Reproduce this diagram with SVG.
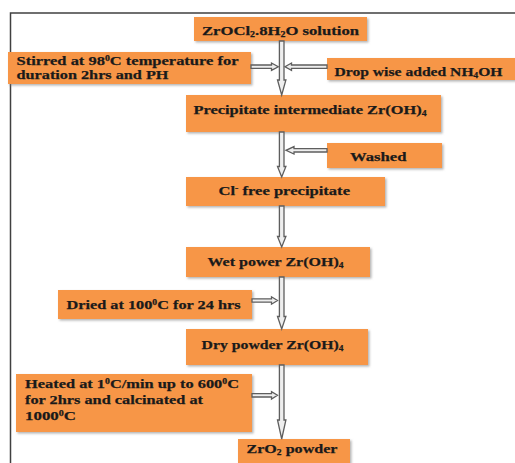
<svg xmlns="http://www.w3.org/2000/svg" width="515" height="463" viewBox="0 0 515 463">
<defs>
<filter id="sh" x="-10%" y="-10%" width="120%" height="140%">
<feDropShadow dx="1.5" dy="1.5" stdDeviation="0.8" flood-color="#808080" flood-opacity="0.6"/>
</filter>
</defs>
<style>
.box{fill:#F79646;filter:url(#sh);}
.t{font-family:"Liberation Serif","Times New Roman",serif;font-weight:bold;font-size:13.5px;fill:#1a1a1a;stroke:#1a1a1a;stroke-width:0.25;}
.sup{font-size:8px;}
.ar{fill:#eeeeee;stroke:#5e5e5e;stroke-width:1.3;stroke-linejoin:miter;}
.frame{stroke:#404040;stroke-width:1.5;fill:none;}
</style>
<rect width="515" height="463" fill="#ffffff"/>
<path class="frame" d="M10.5,463 V13 H515"/>

<g id="n1"><rect class="box" x="194" y="17" width="173" height="24"/>
<text class="t" x="202" y="35" textLength="157" lengthAdjust="spacingAndGlyphs">ZrOCl<tspan class="sup" baseline-shift="-2">2</tspan>.8H<tspan class="sup" baseline-shift="-2">2</tspan>O solution</text></g>

<g id="n2"><rect class="box" x="8" y="52" width="243" height="32"/>
<text class="t" x="16.5" y="65" textLength="222" lengthAdjust="spacingAndGlyphs">Stirred at 98<tspan class="sup" baseline-shift="4">0</tspan>C temperature for</text>
<text class="t" x="16.5" y="78.5" textLength="152" lengthAdjust="spacingAndGlyphs">duration 2hrs and PH</text></g>

<g id="n3"><rect class="box" x="327" y="58" width="190" height="22"/>
<text class="t" x="334.5" y="76" textLength="168" lengthAdjust="spacingAndGlyphs">Drop wise added NH<tspan class="sup" baseline-shift="-2">4</tspan>OH</text></g>

<g id="n4"><rect class="box" x="186" y="95" width="255" height="37"/>
<text class="t" x="193.5" y="113.5" textLength="233" lengthAdjust="spacingAndGlyphs">Precipitate intermediate Zr(OH)<tspan class="sup" baseline-shift="-2">4</tspan></text></g>

<g id="n5"><rect class="box" x="327" y="143" width="115" height="25"/>
<text class="t" x="350" y="160.5" textLength="56.5" lengthAdjust="spacingAndGlyphs">Washed</text></g>

<g id="n6"><rect class="box" x="186" y="177" width="199" height="29"/>
<text class="t" x="218.5" y="195" textLength="131.5" lengthAdjust="spacingAndGlyphs">Cl<tspan class="sup" baseline-shift="4">-</tspan> free precipitate</text></g>

<g id="n7"><rect class="box" x="186" y="247" width="184" height="30"/>
<text class="t" x="207.5" y="266" textLength="136" lengthAdjust="spacingAndGlyphs">Wet power Zr(OH)<tspan class="sup" baseline-shift="-2">4</tspan></text></g>

<g id="n8"><rect class="box" x="58" y="290" width="194" height="29"/>
<text class="t" x="66.5" y="309" textLength="174" lengthAdjust="spacingAndGlyphs">Dried at 100<tspan class="sup" baseline-shift="4">0</tspan>C for 24 hrs</text></g>

<g id="n9"><rect class="box" x="186" y="329" width="182" height="36"/>
<text class="t" x="201.5" y="349" textLength="142" lengthAdjust="spacingAndGlyphs">Dry powder Zr(OH)<tspan class="sup" baseline-shift="-2">4</tspan></text></g>

<g id="n10"><rect class="box" x="16" y="374" width="236" height="58"/>
<text class="t" x="25" y="387.5" textLength="214" lengthAdjust="spacingAndGlyphs">Heated at 1<tspan class="sup" baseline-shift="4">0</tspan>C/min up to 600<tspan class="sup" baseline-shift="4">0</tspan>C</text>
<text class="t" x="25" y="404" textLength="178" lengthAdjust="spacingAndGlyphs">for 2hrs and calcinated at</text>
<text class="t" x="25" y="420" textLength="51" lengthAdjust="spacingAndGlyphs">1000<tspan class="sup" baseline-shift="4">0</tspan>C</text></g>

<g id="n11"><rect class="box" x="238" y="439" width="112" height="30"/>
<text class="t" x="246.5" y="452.5" textLength="91" lengthAdjust="spacingAndGlyphs">ZrO<tspan class="sup" baseline-shift="-2">2</tspan> powder</text></g>

<g id="connectors">
<polygon class="ar" points="279.4,41 284,41 284,80 285.9,80 281.7,95 277.5,80 279.4,80"/>
<polygon class="ar" points="279.4,132 284,132 284,166.5 285.9,166.5 281.7,177 277.5,166.5 279.4,166.5"/>
<polygon class="ar" points="279.4,206 284,206 284,236.5 285.9,236.5 281.7,247 277.5,236.5 279.4,236.5"/>
<polygon class="ar" points="279.4,277 284,277 284,316.5 285.9,316.5 281.7,329 277.5,316.5 279.4,316.5"/>
<polygon class="ar" points="279.4,365 284,365 284,420 285.9,420 281.7,439 277.5,420 279.4,420"/>
<polygon class="ar" points="251,65 271.5,65 271.5,63 278.3,66.7 271.5,70.4 271.5,68.4 251,68.4"/>
<polygon class="ar" points="327,65 291.5,65 291.5,63 285,66.7 291.5,70.4 291.5,68.4 327,68.4"/>
<polygon class="ar" points="327,148.6 294,148.6 294,146.6 286,150.3 294,154 294,152 327,152"/>
<polygon class="ar" points="252,298.8 271.5,298.8 271.5,296.8 277.5,300.5 271.5,304.2 271.5,302.2 252,302.2"/>
<polygon class="ar" points="252,393.6 271.5,393.6 271.5,391.6 277.5,395.3 271.5,399 271.5,397 252,397"/>
</g>
</svg>
